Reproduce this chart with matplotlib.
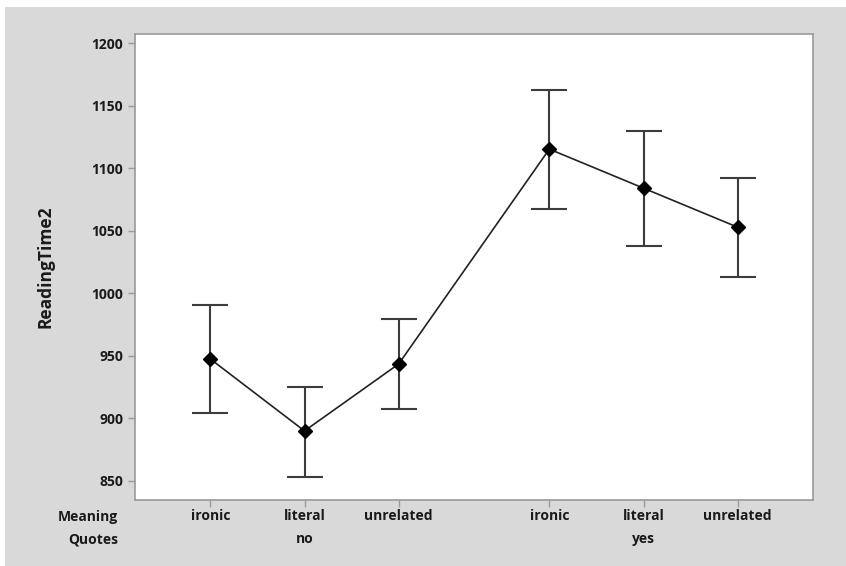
import matplotlib.pyplot as plt
import matplotlib.patches as mpatches
import matplotlib.transforms as mtransforms

# Interval plot of ReadingTime2 by Meaning within Quotes (mean with 95% CI)
MEANING = ["ironic", "literal", "unrelated", "ironic", "literal", "unrelated"]
QUOTES = ["no", "yes"]
X_POS = [0, 1, 2, 3.6, 4.6, 5.6]
MEANS = [947.5, 890.0, 943.5, 1115.2, 1084.0, 1052.8]
CI_LOW = [904.4, 853.4, 907.6, 1067.7, 1038.1, 1013.1]
CI_HIGH = [990.4, 924.9, 979.7, 1162.5, 1130.0, 1092.4]

plt.rcParams["font.family"] = ["Open Sans", "DejaVu Sans"]
TEXT_COLOR = "#1a1a1a"
BAR_COLOR = "#3c3c3c"
SPINE_COLOR = "#9a9a9a"
PANEL = "#d9d9d9"

W, H = 846, 566
fig = plt.figure(figsize=(W / 100, H / 100), dpi=100)
fig.patch.set_facecolor("white")
fig.patches.append(mpatches.Rectangle((5 / W, 0), 1 - 5 / W, 1 - 7 / H,
                                      transform=fig.transFigure,
                                      facecolor=PANEL, edgecolor="none",
                                      zorder=-5))

ax = fig.add_axes([135 / W, 66 / H, 678 / W, 466 / H])
ax.set_zorder(2)
ax.set_facecolor("white")

err_lo = [m - lo for m, lo in zip(MEANS, CI_LOW)]
err_hi = [hi - m for m, hi in zip(MEANS, CI_HIGH)]
ax.errorbar(X_POS, MEANS, yerr=[err_lo, err_hi], fmt="none",
            ecolor=BAR_COLOR, elinewidth=1.5, capsize=12.7, capthick=1.5,
            zorder=2)

# means joined across all cells
ax.plot(X_POS, MEANS, color="#222222", lw=1.2, zorder=3)
ax.plot(X_POS, MEANS, linestyle="none", marker="D", markersize=7,
        color="black", zorder=4)

ax.set_xlim(-0.8, 6.4)
ax.set_ylim(834.8, 1207.2)
ax.set_yticks([850, 900, 950, 1000, 1050, 1100, 1150, 1200])
ax.set_xticks(X_POS, MEANING)

for s in ax.spines.values():
    s.set_color(SPINE_COLOR)
    s.set_linewidth(1.2)
ax.tick_params(axis="both", colors=SPINE_COLOR, length=5, width=1.0,
               labelcolor=TEXT_COLOR, labelsize=10)
ax.tick_params(axis="x", pad=1.5)
for lab in ax.get_xticklabels() + ax.get_yticklabels():
    lab.set_fontweight("bold")

fig.text(45 / W, 1 - 267 / H, "ReadingTime2", rotation=90, ha="center",
         va="center", fontsize=12.5, fontweight="bold", color=TEXT_COLOR)

# second row of category labels: Quotes group under its middle column
trans = mtransforms.blended_transform_factory(ax.transData, fig.transFigure)
for name, xc in zip(QUOTES, [X_POS[1], X_POS[4]]):
    ax.text(xc, 1 - 539 / H, name, transform=trans, ha="center", va="center",
            fontsize=10, fontweight="bold", color=TEXT_COLOR)

fig.text(118 / W, 1 - 517 / H, "Meaning", ha="right", va="center",
         fontsize=10, fontweight="bold", color=TEXT_COLOR)
fig.text(118 / W, 1 - 539 / H, "Quotes", ha="right", va="center",
         fontsize=10, fontweight="bold", color=TEXT_COLOR)

fig.savefig("out.png", dpi=100, facecolor=fig.get_facecolor())
